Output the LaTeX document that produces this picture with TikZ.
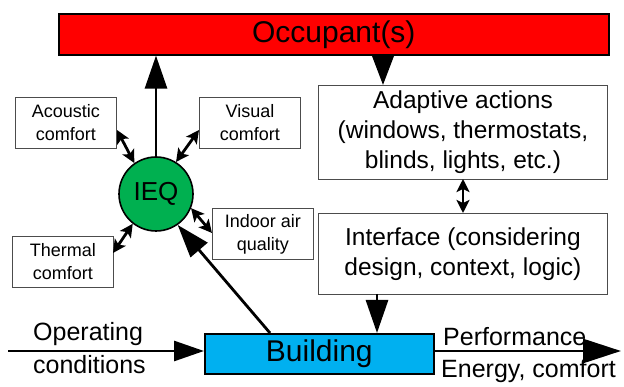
\documentclass[tikz,border=0pt]{standalone}
\usepackage{fontspec}
\setmainfont{Liberation Sans}
\usetikzlibrary{arrows.meta}
\definecolor{occred}{RGB}{255,0,0}
\definecolor{ieqgreen}{RGB}{0,176,80}
\definecolor{bldblue}{RGB}{0,176,240}
\tikzset{
  bigbox/.style={draw=black, line width=1.6pt, inner sep=0pt, anchor=north west},
  textbox/.style={draw=black!70, line width=0.9pt, inner sep=0pt, anchor=north west, align=center},
  smallbox/.style={draw=black!70, line width=0.9pt, inner sep=0pt, anchor=north west, align=center,
     font=\fontsize{18}{23}\selectfont},
  bigarrow/.style={line width=2.8pt, -{Triangle[length=33pt,width=22pt]}},
  medarrow/.style={line width=2.8pt, -{Triangle[length=30pt,width=22pt]}},
  dblarrow/.style={line width=2.8pt, {Stealth[length=13pt,width=13pt,inset=3pt]}-{Stealth[length=13pt,width=13pt,inset=3pt]}},
}
\begin{document}
\begin{tikzpicture}[x=1pt,y=-1pt]
\useasboundingbox (0,0) rectangle (624,387);
% Occupant
\node[bigbox, fill=occred, minimum width=550pt, minimum height=41pt] (occ) at (58,13) {};
\node[font=\fontsize{30}{34}\selectfont] at (occ.center) {Occupant(s)};
% IEQ
\node[circle, draw=black, line width=1.6pt, fill=ieqgreen, minimum size=74pt, inner sep=0pt,
      font=\fontsize{26}{30}\selectfont] (ieq) at (156,194) {IEQ};
% small boxes
\node[smallbox, minimum width=101pt, minimum height=51pt] (ac) at (15,97) {Acoustic\\comfort};
\node[smallbox, minimum width=101pt, minimum height=51pt] (vc) at (199,97) {Visual\\comfort};
\node[smallbox, minimum width=101pt, minimum height=51pt] (iaq) at (212,208) {Indoor air\\quality};
\node[smallbox, minimum width=101pt, minimum height=51pt] (tc) at (12,236) {Thermal\\comfort};
% Adaptive actions and Interface
\node[textbox, minimum width=289pt, minimum height=94pt, font=\fontsize{24.5}{30}\selectfont] (ada) at (318,85)
  {Adaptive actions\\(windows, thermostats,\\blinds, lights, etc.)};
\node[textbox, minimum width=289pt, minimum height=81pt, font=\fontsize{24.5}{30}\selectfont] (intf) at (318,213)
  {Interface (considering\\design, context, logic)};
% Building
\node[bigbox, fill=bldblue, minimum width=229pt, minimum height=40pt] (bld) at (204,333) {};
\node[font=\fontsize{30}{34}\selectfont] at (bld.center) {Building};
% coordinates
\coordinate (opstart) at (8,351);
\coordinate (perfend) at (621,351);
% arrows
\draw[bigarrow] (ieq.north) -- (ieq.north |- occ.south);
\draw[medarrow] (383,54) -- (383,85);
\draw[dblarrow] (463,179) -- (463,213);
\draw[bigarrow] (377,294) -- (377,333);
\draw[bigarrow] (270,333) -- (ieq.-55);
\draw[dblarrow] (117,130) -- (ieq.125);
\draw[dblarrow] (199,130) -- (ieq.58);
\draw[dblarrow] (212,233) -- (ieq.-22);
\draw[dblarrow] (113,253) -- (ieq.-128);
\draw[line width=2.8pt, -{Triangle[length=30pt,width=20pt]}] (opstart) -- (bld.west |- opstart);
\draw[line width=2.8pt, -{Triangle[length=38pt,width=24pt]}] (bld.east |- perfend) -- (perfend);
% labels
\node[anchor=south west, inner sep=0pt, font=\fontsize{25}{28}\selectfont] (opl1) at (33,346) {Operating};
\node[anchor=north west, inner sep=0pt, font=\fontsize{25}{28}\selectfont] (opl2) at (33,355) {conditions};
\node[anchor=south west, inner sep=0pt, font=\fontsize{25}{28}\selectfont] (pl1) at (443,346) {Performance};
\node[anchor=north west, inner sep=0pt, font=\fontsize{25}{28}\selectfont] (pl2) at (441,359) {Energy, comfort};
\end{tikzpicture}
\end{document}
